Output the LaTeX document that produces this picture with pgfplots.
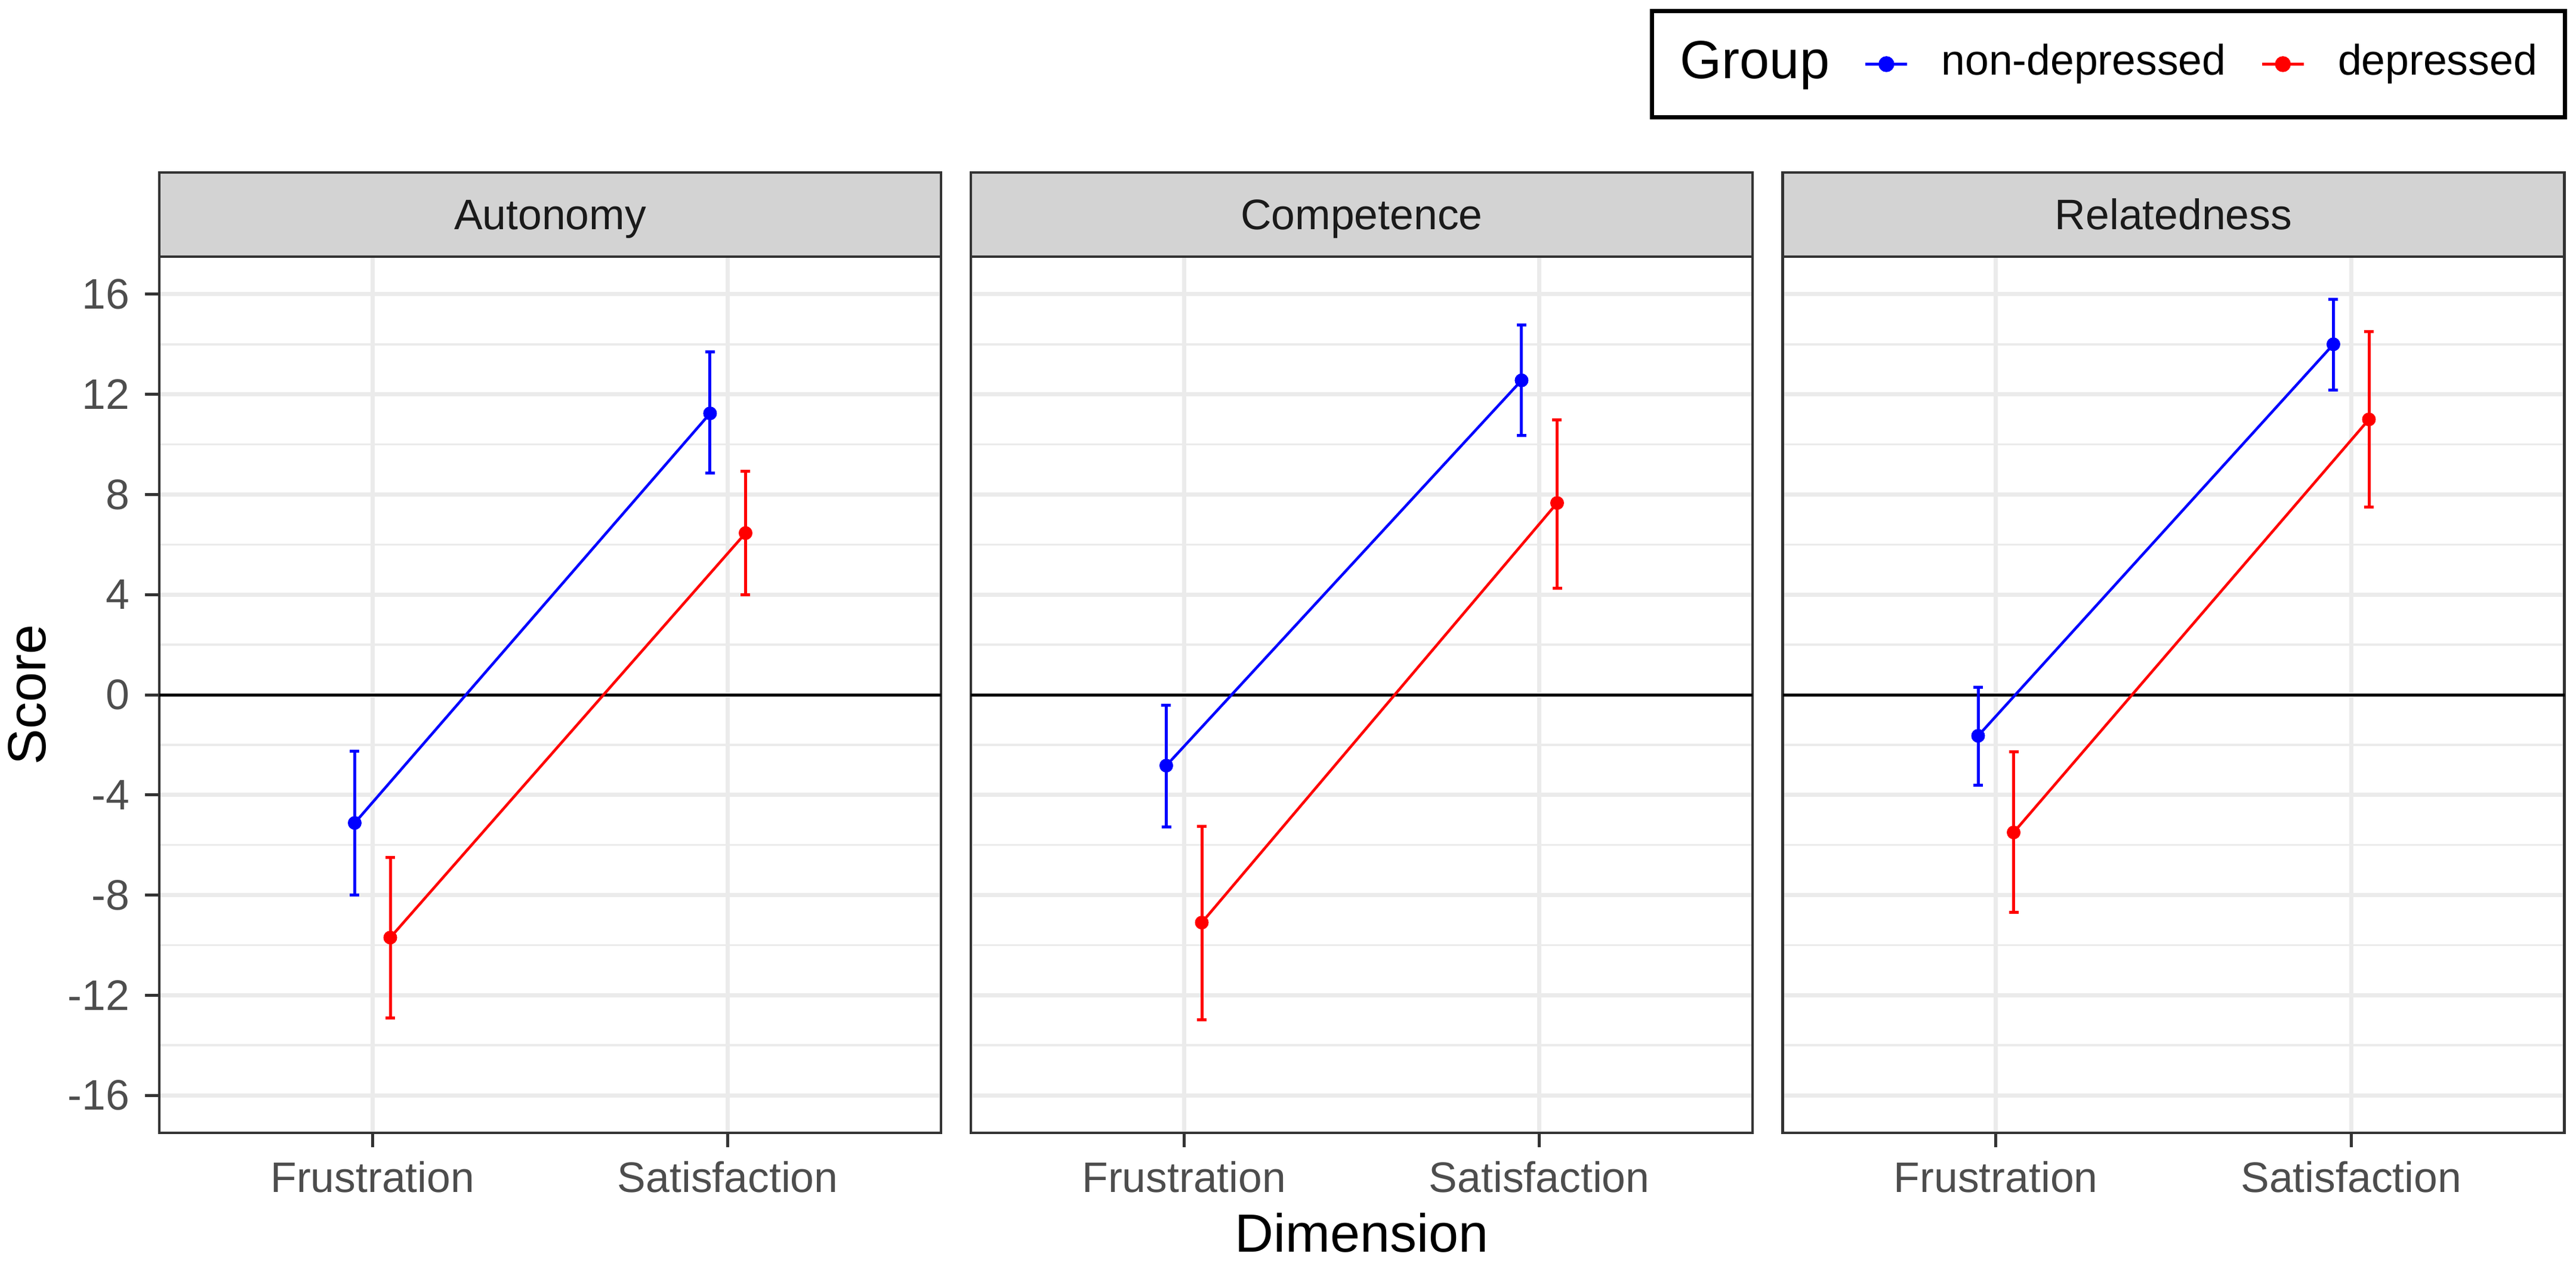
\documentclass[border=0pt]{standalone}
\usepackage{pgfplots}
\pgfplotsset{compat=1.18}
\usepackage{pgfplotstable}
\usepackage{fontspec}
\setmainfont{Liberation Sans}
\definecolor{grey10}{HTML}{1A1A1A}
\definecolor{grey20}{HTML}{333333}
\definecolor{grey30}{HTML}{4D4D4D}
\definecolor{grey92}{HTML}{EBEBEB}
\definecolor{stripgrey}{HTML}{D3D3D3}
\definecolor{ggblue}{HTML}{0000FF}
\definecolor{ggred}{HTML}{FF0000}

% x: category position (1 = Frustration, 2 = Satisfaction) dodged by 0.05
\pgfplotstableread{
x    y      ep    em
0.95 -5.12  2.86  2.88
1.95 11.24  2.46  2.38
}\AutBlue
\pgfplotstableread{
x    y      ep    em
1.05 -9.70  3.20  3.20
2.05  6.46  2.47  2.47
}\AutRed
\pgfplotstableread{
x    y      ep    em
0.95 -2.83  2.42  2.45
1.95 12.56  2.20  2.19
}\ComBlue
\pgfplotstableread{
x    y      ep    em
1.05 -9.10  3.85  3.88
2.05  7.66  3.33  3.40
}\ComRed
\pgfplotstableread{
x    y      ep    em
0.95 -1.64  1.94  1.96
1.95 14.00  1.80  1.82
}\RelBlue
\pgfplotstableread{
x    y      ep    em
1.05 -5.50  3.23  3.18
2.05 11.00  3.52  3.51
}\RelRed

\pgfplotsset{
  facet/.style={
    scale only axis, width=131pt, height=146.8pt, anchor=south west,
    xmin=0.4, xmax=2.6, ymin=-17.5, ymax=17.5,
    xtick={1,2}, xticklabels={Frustration,Satisfaction},
    ytick={-16,-12,...,16},
    minor y tick num=1,
    xmajorgrids, ymajorgrids, yminorgrids,
    major grid style={grey92, line width=0.7pt},
    minor grid style={grey92, line width=0.35pt},
    axis line style={grey20, line width=0.45pt},
    tick align=outside, xtick pos=bottom, ytick pos=left,
    major tick length=2.4pt, minor tick length=0pt,
    tick style={grey20, line width=0.5pt},
    tick label style={font=\fontsize{7.15}{8}\selectfont, text=grey30, inner sep=0pt},
    yticklabel style={anchor=east, xshift=-2.4pt},
    xticklabel style={anchor=north, yshift=-2.2pt},
    label style={font=\fontsize{9}{10}\selectfont, text=black},
    clip=false,
  },
  bluestyle/.style={ggblue, line width=0.45pt, mark=*, mark size=1.1pt,
    mark options={solid, fill=ggblue, draw=ggblue, line width=0.1pt},
    error bars/.cd, y dir=both, y explicit,
    error mark=|,
    error bar style={ggblue, line width=0.5pt},
    error mark options={ggblue, line width=0.5pt, mark size=0.8pt},
    /pgfplots/.cd},
  redstyle/.style={ggred, line width=0.45pt, mark=*, mark size=1.1pt,
    mark options={solid, fill=ggred, draw=ggred, line width=0.1pt},
    error bars/.cd, y dir=both, y explicit,
    error mark=|,
    error bar style={ggred, line width=0.5pt},
    error mark options={ggred, line width=0.5pt, mark size=0.8pt},
    /pgfplots/.cd},
}

\newcommand{\strip}[1]{%
  \draw[fill=stripgrey, draw=grey20, line width=0.45pt] (rel axis cs:0,1) rectangle ([yshift=14.1pt]rel axis cs:1,1);
  \node[font=\fontsize{7.15}{8}\selectfont, text=grey10, anchor=base, inner sep=0pt] at ([yshift=4.6pt]rel axis cs:0.5,1) {#1};
}

\begin{document}
\begin{tikzpicture}
\useasboundingbox (0,0) rectangle (431.7pt,211.6pt);

\begin{axis}[facet, at={(26.7pt,21.8pt)},
  yticklabels={-16,-12,-8,-4,0,4,8,12,16},
  ylabel={Score},
  ylabel style={at={(axis description cs:-0.1458,0.5)}, anchor=base}]
  \addplot[black, line width=0.5pt, forget plot] coordinates {(0.4,0) (2.6,0)};
  \addplot[bluestyle] table[x=x, y=y, y error plus=ep, y error minus=em] {\AutBlue};
  \addplot[redstyle] table[x=x, y=y, y error plus=ep, y error minus=em] {\AutRed};
  \strip{Autonomy}
\end{axis}

\begin{axis}[facet, at={(162.7pt,21.8pt)},
  yticklabels={}, ytick style={draw=none},
  xlabel={Dimension},
  xlabel style={at={(axis description cs:0.5,-0.1356)}, anchor=base}]
  \addplot[black, line width=0.5pt, forget plot] coordinates {(0.4,0) (2.6,0)};
  \addplot[bluestyle] table[x=x, y=y, y error plus=ep, y error minus=em] {\ComBlue};
  \addplot[redstyle] table[x=x, y=y, y error plus=ep, y error minus=em] {\ComRed};
  \strip{Competence}
\end{axis}

\begin{axis}[facet, at={(298.75pt,21.8pt)},
  yticklabels={}, ytick style={draw=none},
  legend columns=-1,
  legend entries={{\fontsize{9}{10}\selectfont Group},non-depressed,depressed},
  legend style={at={(axis description cs:1.0038,1.2827)}, anchor=north east,
    draw=black, line width=0.7pt, fill=white,
    inner xsep=4.7pt, inner ysep=5.0pt,
    font=\fontsize{7.15}{8}\selectfont,
    nodes={inner sep=0pt},
    /tikz/column 2/.style={column sep=5.8pt},
    /tikz/column 3/.style={column sep=5.5pt},
    /tikz/column 4/.style={column sep=5.8pt},
    /tikz/column 5/.style={column sep=5.5pt}}]
  \addlegendimage{legend image code/.code={}}
  \addplot[black, line width=0.5pt, forget plot] coordinates {(0.4,0) (2.6,0)};
  \addplot[legend image code/.code={\draw[ggblue, line width=0.45pt] (0pt,0pt) -- (7pt,0pt); \fill[ggblue] (3.5pt,0pt) circle (1.1pt);}, bluestyle] table[x=x, y=y, y error plus=ep, y error minus=em] {\RelBlue};
  \addplot[legend image code/.code={\draw[ggred, line width=0.45pt] (0pt,0pt) -- (7pt,0pt); \fill[ggred] (3.5pt,0pt) circle (1.1pt);}, redstyle] table[x=x, y=y, y error plus=ep, y error minus=em] {\RelRed};
  \strip{Relatedness}
\end{axis}
\end{tikzpicture}
\end{document}
